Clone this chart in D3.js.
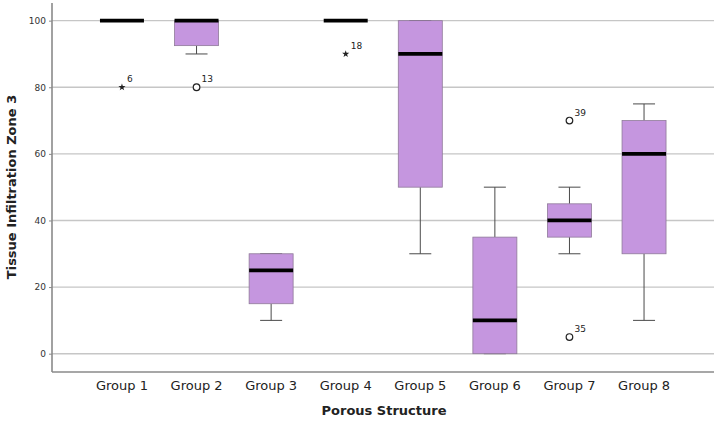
<!DOCTYPE html>
<html><head><meta charset="utf-8">
<script src="https://cdn.jsdelivr.net/npm/d3@7"></script>
<style>body{margin:0;background:#fff}svg{display:block}</style>
</head><body>
<svg id="c" width="716" height="422"></svg>
<script>
const categories = ["Group 1","Group 2","Group 3","Group 4","Group 5","Group 6","Group 7","Group 8"];
const whiskerLow  = [100, 90, 10, 100, 30, 0, 30, 10];
const q1          = [100, 92.5, 15, 100, 50, 0, 35, 30];
const median      = [100, 100, 25, 100, 90, 10, 40, 60];
const q3          = [100, 100, 30, 100, 100, 35, 45, 70];
const whiskerHigh = [100, 100, 30, 100, 100, 50, 50, 75];
const outliers = [
  {group:"Group 1", value:80, label:"6",  type:"star"},
  {group:"Group 2", value:80, label:"13", type:"circle"},
  {group:"Group 4", value:90, label:"18", type:"star"},
  {group:"Group 7", value:70, label:"39", type:"circle"},
  {group:"Group 7", value:5,  label:"35", type:"circle"}
];
const yTicks = [0,20,40,60,80,100];
const yTitle = "Tissue Infiltration Zone 3";
const xTitle = "Porous Structure";

const svg = d3.select("#c");
const mL = 52, mR = 714, mT = 3, mB = 372;
const x = d3.scaleBand().domain(categories).range([mL, mR]).paddingInner(0.41).paddingOuter(0.643);
const y = d3.scaleLinear().domain([-5.5, 105.3]).range([mB, mT]);
const bw = 44, capW = 22;

// gridlines
svg.append("g").selectAll("line").data(yTicks).join("line")
  .attr("x1", mL).attr("x2", mR)
  .attr("y1", d=>y(d)).attr("y2", d=>y(d))
  .attr("stroke", "#c6c6c6").attr("stroke-width", 1.4);

// y axis
const yAxis = d3.axisLeft(y).tickValues(yTicks).tickSize(3).tickPadding(3);
const gy = svg.append("g").attr("transform", `translate(${mL},0)`).call(yAxis);
gy.select(".domain").remove();
gy.selectAll(".tick line").attr("stroke", "#888");
gy.selectAll("text").attr("font-family", "DejaVu Sans, sans-serif").attr("font-size", 9).attr("fill", "#333");

// x axis
const xAxis = d3.axisBottom(x).tickSize(0).tickPadding(9);
const gx = svg.append("g").attr("transform", `translate(0,${mB})`).call(xAxis);
gx.select(".domain").remove();
gx.selectAll("text").attr("font-family", "DejaVu Sans, sans-serif").attr("font-size", 13).attr("fill", "#222");

// axis lines
svg.append("line").attr("x1", mL).attr("x2", mL).attr("y1", mT).attr("y2", mB).attr("stroke", "#8a8a8a").attr("stroke-width", 1.6);
svg.append("line").attr("x1", mL).attr("x2", mR).attr("y1", mB).attr("y2", mB).attr("stroke", "#8a8a8a").attr("stroke-width", 1.6);

// boxes
const data = categories.map((c,i)=>({c, lo:whiskerLow[i], q1:q1[i], md:median[i], q3:q3[i], hi:whiskerHigh[i]}));
const g = svg.append("g").selectAll("g").data(data).join("g")
  .attr("transform", d=>`translate(${x(d.c)+x.bandwidth()/2},0)`);
g.filter(d=>d.hi!==d.lo).each(function(d){
  const s = d3.select(this);
  if (d.hi > d.q3) s.append("line").attr("x1",0).attr("x2",0).attr("y1",y(d.hi)).attr("y2",y(d.q3)).attr("stroke","#4a4a4a").attr("stroke-width",1);
  if (d.lo < d.q1) s.append("line").attr("x1",0).attr("x2",0).attr("y1",y(d.lo)).attr("y2",y(d.q1)).attr("stroke","#4a4a4a").attr("stroke-width",1);
  s.append("line").attr("x1",-capW/2).attr("x2",capW/2).attr("y1",y(d.hi)).attr("y2",y(d.hi)).attr("stroke","#4a4a4a").attr("stroke-width",1);
  s.append("line").attr("x1",-capW/2).attr("x2",capW/2).attr("y1",y(d.lo)).attr("y2",y(d.lo)).attr("stroke","#4a4a4a").attr("stroke-width",1);
});
g.filter(d=>d.q3!==d.q1).append("rect")
  .attr("x",-bw/2).attr("width",bw)
  .attr("y",d=>y(d.q3)).attr("height",d=>y(d.q1)-y(d.q3))
  .attr("fill","#c596df").attr("stroke","#8f7a99").attr("stroke-width",0.8);
g.append("line").attr("x1",-bw/2).attr("x2",bw/2)
  .attr("y1",d=>y(d.md)).attr("y2",d=>y(d.md))
  .attr("stroke","#000").attr("stroke-width",3.8);

// outliers
const og = svg.append("g").selectAll("g").data(outliers).join("g")
  .attr("transform", d=>`translate(${x(d.group)+x.bandwidth()/2},${y(d.value)})`);
og.filter(d=>d.type==="circle").append("circle").attr("r",3.3).attr("fill","#fff").attr("stroke","#222").attr("stroke-width",1.2);
og.filter(d=>d.type==="star").append("path").attr("d", d3.symbol(d3.symbolStar, 16)()).attr("fill","#222");
og.append("text").attr("x",5).attr("y",-5).text(d=>d.label)
  .attr("font-family","DejaVu Sans, sans-serif").attr("font-size",9).attr("fill","#222");

// titles
svg.append("text").attr("x",384).attr("y",415).attr("text-anchor","middle")
  .attr("font-family","DejaVu Sans, sans-serif").attr("font-weight","bold").attr("font-size",13).attr("fill","#222").text(xTitle);
svg.append("text").attr("transform","translate(16,187) rotate(-90)").attr("text-anchor","middle")
  .attr("font-family","DejaVu Sans, sans-serif").attr("font-weight","bold").attr("font-size",13).attr("fill","#222").text(yTitle);
</script>
</body></html>
